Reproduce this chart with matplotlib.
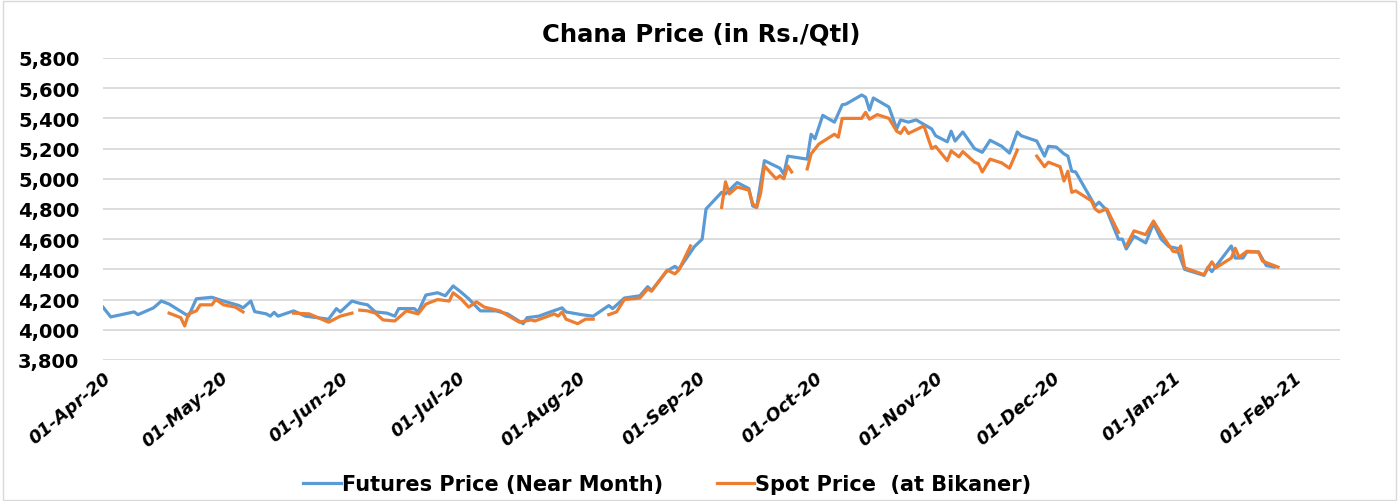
import numpy as np
import pandas as pd
import matplotlib
matplotlib.use('Agg')
import matplotlib.pyplot as plt
import matplotlib.dates as mdates
from matplotlib.ticker import FuncFormatter, MultipleLocator
from matplotlib.patches import Rectangle

plt.rcParams['font.family'] = ['DejaVu Sans']

# Futures price (near month), Rs./Qtl
fut_dates = ['2020-04-01', '2020-04-03', '2020-04-09', '2020-04-10', '2020-04-14', '2020-04-16',
             '2020-04-18', '2020-04-23', '2020-04-25', '2020-04-29', '2020-05-02', '2020-05-06',
             '2020-05-07', '2020-05-09', '2020-05-10', '2020-05-13', '2020-05-14', '2020-05-15',
             '2020-05-16', '2020-05-20', '2020-05-23', '2020-05-29', '2020-05-31', '2020-06-01',
             '2020-06-04', '2020-06-06', '2020-06-08', '2020-06-10', '2020-06-13', '2020-06-15',
             '2020-06-16', '2020-06-20', '2020-06-21', '2020-06-23', '2020-06-26', '2020-06-28',
             '2020-06-30', '2020-07-02', '2020-07-04', '2020-07-07', '2020-07-11', '2020-07-14',
             '2020-07-18', '2020-07-19', '2020-07-22', '2020-07-25', '2020-07-28', '2020-07-29',
             '2020-08-02', '2020-08-05', '2020-08-09', '2020-08-10', '2020-08-13', '2020-08-17',
             '2020-08-19', '2020-08-20', '2020-08-24', '2020-08-26', '2020-08-27', '2020-08-31',
             '2020-09-02', '2020-09-03', '2020-09-07', '2020-09-08', '2020-09-11', '2020-09-14',
             '2020-09-15', '2020-09-16', '2020-09-18', '2020-09-22', '2020-09-23', '2020-09-24',
             '2020-09-29', '2020-09-30', '2020-10-01', '2020-10-03', '2020-10-06', '2020-10-08',
             '2020-10-09', '2020-10-13', '2020-10-14', '2020-10-15', '2020-10-16', '2020-10-20',
             '2020-10-22', '2020-10-23', '2020-10-25', '2020-10-27', '2020-10-31', '2020-11-01',
             '2020-11-04', '2020-11-05', '2020-11-06', '2020-11-08', '2020-11-11', '2020-11-13',
             '2020-11-15', '2020-11-18', '2020-11-20', '2020-11-22', '2020-11-23', '2020-11-27',
             '2020-11-29', '2020-11-30', '2020-12-02', '2020-12-04', '2020-12-05', '2020-12-06',
             '2020-12-07', '2020-12-12', '2020-12-13', '2020-12-15', '2020-12-18', '2020-12-19',
             '2020-12-20', '2020-12-22', '2020-12-25', '2020-12-27', '2020-12-29', '2020-12-31',
             '2021-01-02', '2021-01-04', '2021-01-09', '2021-01-10', '2021-01-11', '2021-01-16',
             '2021-01-17', '2021-01-19', '2021-01-20', '2021-01-23', '2021-01-25', '2021-01-27']
fut_price = [4150, 4085, 4118, 4100, 4145, 4190,
             4170, 4090, 4205, 4215, 4190, 4160,
             4145, 4190, 4120, 4105, 4090, 4115,
             4090, 4125, 4090, 4070, 4140, 4118,
             4190, 4175, 4165, 4118, 4110, 4090,
             4140, 4140, 4118, 4230, 4245, 4225,
             4290, 4250, 4205, 4125, 4125, 4105,
             4040, 4080, 4090, 4118, 4145, 4118,
             4100, 4090, 4160, 4140, 4210, 4225,
             4285, 4260, 4390, 4420, 4400, 4550,
             4600, 4800, 4910, 4900, 4975, 4935,
             4820, 4810, 5120, 5070, 5030, 5150,
             5130, 5295, 5265, 5420, 5375, 5490,
             5495, 5555, 5540, 5455, 5535, 5475,
             5330, 5390, 5375, 5390, 5330, 5285,
             5245, 5315, 5250, 5310, 5200, 5175,
             5255, 5215, 5170, 5310, 5285, 5250,
             5150, 5215, 5210, 5165, 5150, 5050,
             5045, 4820, 4845, 4790, 4600, 4600,
             4535, 4620, 4575, 4705, 4600, 4550,
             4540, 4400, 4360, 4415, 4385, 4555,
             4475, 4475, 4515, 4515, 4425, 4415]

# Spot price at Bikaner, Rs./Qtl (NaN = no quote, line breaks)
spot_dates = ['2020-04-18', '2020-04-21', '2020-04-22', '2020-04-23', '2020-04-25', '2020-04-26',
              '2020-04-29', '2020-04-30', '2020-05-02', '2020-05-05', '2020-05-07', '2020-05-08',
              '2020-05-20', '2020-05-24', '2020-05-29', '2020-06-01', '2020-06-04', '2020-06-05',
              '2020-06-06', '2020-06-08', '2020-06-10', '2020-06-12', '2020-06-15', '2020-06-18',
              '2020-06-21', '2020-06-23', '2020-06-26', '2020-06-29', '2020-06-30', '2020-07-02',
              '2020-07-04', '2020-07-06', '2020-07-08', '2020-07-12', '2020-07-17', '2020-07-20',
              '2020-07-21', '2020-07-26', '2020-07-27', '2020-07-28', '2020-07-29', '2020-08-01',
              '2020-08-03', '2020-08-05', '2020-08-06',
              '2020-08-09', '2020-08-11', '2020-08-13', '2020-08-17', '2020-08-19', '2020-08-20',
              '2020-08-24', '2020-08-26', '2020-08-27', '2020-08-30', '2020-08-31',
              '2020-09-07', '2020-09-08', '2020-09-09', '2020-09-11', '2020-09-14', '2020-09-15',
              '2020-09-16', '2020-09-17', '2020-09-18', '2020-09-21', '2020-09-22', '2020-09-23',
              '2020-09-24', '2020-09-25', '2020-09-26',
              '2020-09-29', '2020-09-30', '2020-10-02', '2020-10-06', '2020-10-07', '2020-10-08',
              '2020-10-13', '2020-10-14', '2020-10-15', '2020-10-17', '2020-10-20', '2020-10-22',
              '2020-10-23', '2020-10-24', '2020-10-25', '2020-10-27', '2020-10-29', '2020-10-31',
              '2020-11-01', '2020-11-04', '2020-11-05', '2020-11-07', '2020-11-08', '2020-11-11',
              '2020-11-12', '2020-11-13', '2020-11-15', '2020-11-18', '2020-11-20', '2020-11-22',
              '2020-11-23',
              '2020-11-27', '2020-11-29', '2020-11-30', '2020-12-03', '2020-12-04', '2020-12-05',
              '2020-12-06', '2020-12-07', '2020-12-11', '2020-12-12', '2020-12-13', '2020-12-15',
              '2020-12-18', '2020-12-19',
              '2020-12-20', '2020-12-22', '2020-12-25', '2020-12-27', '2020-12-29', '2021-01-01',
              '2021-01-02', '2021-01-03', '2021-01-04', '2021-01-09', '2021-01-11', '2021-01-12',
              '2021-01-16', '2021-01-17', '2021-01-18', '2021-01-20', '2021-01-23', '2021-01-24',
              '2021-01-26', '2021-01-28']
spot_price = [4110, 4080, 4025, 4105, 4125, 4165,
              4165, 4200, 4165, 4150, 4118, np.nan,
              4110, 4105, 4050, 4090, 4110, np.nan,
              4130, 4125, 4110, 4065, 4058, 4125,
              4105, 4170, 4200, 4190, 4245, 4205,
              4150, 4185, 4150, 4125, 4050, 4065,
              4058, 4105, 4090, 4118, 4070, 4040,
              4070, 4070, np.nan,
              4100, 4118, 4200, 4210, 4270, 4255,
              4395, 4370, 4395, 4555, np.nan,
              4810, 4980, 4900, 4945, 4925, 4835,
              4810, 4900, 5085, 5000, 5020, 5000,
              5085, 5045, np.nan,
              5065, 5165, 5230, 5295, 5275, 5400,
              5400, 5440, 5395, 5425, 5400, 5315,
              5300, 5340, 5300, 5325, 5350, 5200,
              5215, 5120, 5185, 5145, 5180, 5110,
              5100, 5045, 5130, 5105, 5070, 5190,
              np.nan,
              5150, 5080, 5110, 5080, 4985, 5050,
              4910, 4920, 4855, 4800, 4780, 4800,
              4645, np.nan,
              4555, 4655, 4630, 4720, 4635, 4520,
              4515, 4555, 4410, 4365, 4450, 4410,
              4475, 4540, 4480, 4520, 4515, 4455,
              4435, 4415]

fut_x = pd.to_datetime(fut_dates)
spot_x = pd.to_datetime(spot_dates)

fig = plt.figure(figsize=(13.99, 5.02), dpi=100)
ax = fig.add_axes([0.0736, 0.281, 0.8844, 0.6015])

ax.plot(fut_x, fut_price, color='#5B9BD5', lw=2.3, label='Futures Price (Near Month)')
ax.plot(spot_x, spot_price, color='#ED7D31', lw=2.3, label='Spot Price  (at Bikaner)')

ax.set_ylim(3800, 5800)
ax.yaxis.set_major_locator(MultipleLocator(200))
ax.yaxis.set_major_formatter(FuncFormatter(lambda v, p: f'{v:,.0f}'))
ax.set_xlim(pd.Timestamp('2020-04-01'), pd.Timestamp('2021-02-13'))
ax.xaxis.set_major_locator(mdates.MonthLocator())
ax.xaxis.set_major_formatter(mdates.DateFormatter('%d-%b-%y'))

ax.grid(axis='y', color='#D9D9D9', lw=1.3)
ax.set_axisbelow(True)
for s in ax.spines.values():
    s.set_visible(False)

ax.tick_params(axis='y', length=0, pad=17, labelsize=14)
ax.tick_params(axis='x', length=0, pad=6, labelsize=13)
for t in ax.get_yticklabels():
    t.set_fontweight('bold')
for t in ax.get_xticklabels():
    t.set_fontweight('bold')
    t.set_fontstyle('oblique')
    t.set_rotation(40)
    t.set_ha('right')
    t.set_rotation_mode('anchor')

fig.text(0.501, 1 - 35 / 502, 'Chana Price (in Rs./Qtl)', ha='center', va='center',
         fontsize=17.5, fontweight='bold')

fig.legend(loc='center', bbox_to_anchor=(0.477, 0.034), ncol=2, frameon=False,
           prop={'weight': 'bold', 'size': 15}, handlelength=1.8, handletextpad=0.05,
           columnspacing=2.6)

fig.patches.append(Rectangle((0.002, 0.002), 0.996, 0.994, transform=fig.transFigure,
                             fill=False, ec='#D9D9D9', lw=1))

fig.savefig('out.png', dpi=100)
